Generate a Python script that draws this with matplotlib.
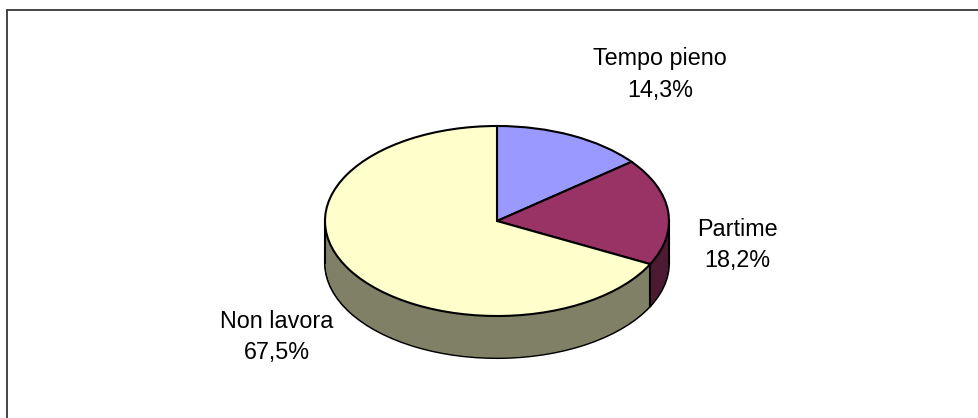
import matplotlib
matplotlib.use("Agg")
import matplotlib.pyplot as plt
import numpy as np

plt.rcParams['font.family'] = ['Liberation Sans', 'DejaVu Sans']

# Data
labels = ["Tempo pieno", "Partime", "Non lavora"]
shares = [14.3, 18.2, 67.5]
pct_labels = ["14,3%", "18,2%", "67,5%"]
top_colors = ["#9999ff", "#993366", "#ffffcc"]
side_colors = ["#4d4d80", "#4d1a33", "#808066"]

W, H = 979, 418
fig = plt.figure(figsize=(W / 100, H / 100), dpi=100)

# axes cover the whole figure, one pie unit is 172 px wide and 95 px high
cx, cy = 497, 221
rx, ry = 172, 95
depth = 42 / ry
ax = fig.add_axes([0, 0, 1, 1])

# wall outline at the bottom
ax.pie(shares, startangle=90, counterclock=False,
       center=(0, -depth), radius=1, frame=True,
       wedgeprops=dict(edgecolor="black", linewidth=1.5, fill=False))

# side wall: the same pie stacked downwards
steps = 42
for i in range(steps, -1, -1):
    ax.pie(shares, colors=side_colors, startangle=90, counterclock=False,
           center=(0, -depth * i / steps), radius=0.996, frame=True)

# vertical edges of the wall
for x0 in [-1, 1]:
    ax.plot([x0, x0], [0, -depth], color="black", lw=1.5)
seam = np.radians(90 - 3.6 * (shares[0] + shares[1]))
ax.plot([np.cos(seam)] * 2, [np.sin(seam), np.sin(seam) - depth], color="black", lw=1.5)

ax.pie(shares, colors=top_colors, startangle=90, counterclock=False,
       center=(0, 0), radius=1, frame=True,
       wedgeprops=dict(edgecolor="black", linewidth=1.5))

ax.set_aspect("auto")
ax.set_xlim(-cx / rx, (W - cx) / rx)
ax.set_ylim(-(H - cy) / ry, cy / ry)
ax.axis("off")

# labels
label_pos = [(660, 74), (737, 245), (277, 337)]
for name, pct, (px, py) in zip(labels, pct_labels, label_pos):
    ax.annotate(name + "\n" + pct, xy=(px / W, 1 - py / H), xycoords="figure fraction",
                ha="center", va="center", fontsize=16.8, color="black", linespacing=1.5)

# chart frame, open at the right and bottom edge of the crop
fig.add_artist(plt.Line2D([7.5 / W, 7.5 / W], [0, 1 - 9.5 / H], color="#444444", lw=1.4))
fig.add_artist(plt.Line2D([7.5 / W, 1], [1 - 9.5 / H, 1 - 9.5 / H], color="#444444", lw=1.4))

fig.savefig("out.png", dpi=100)
